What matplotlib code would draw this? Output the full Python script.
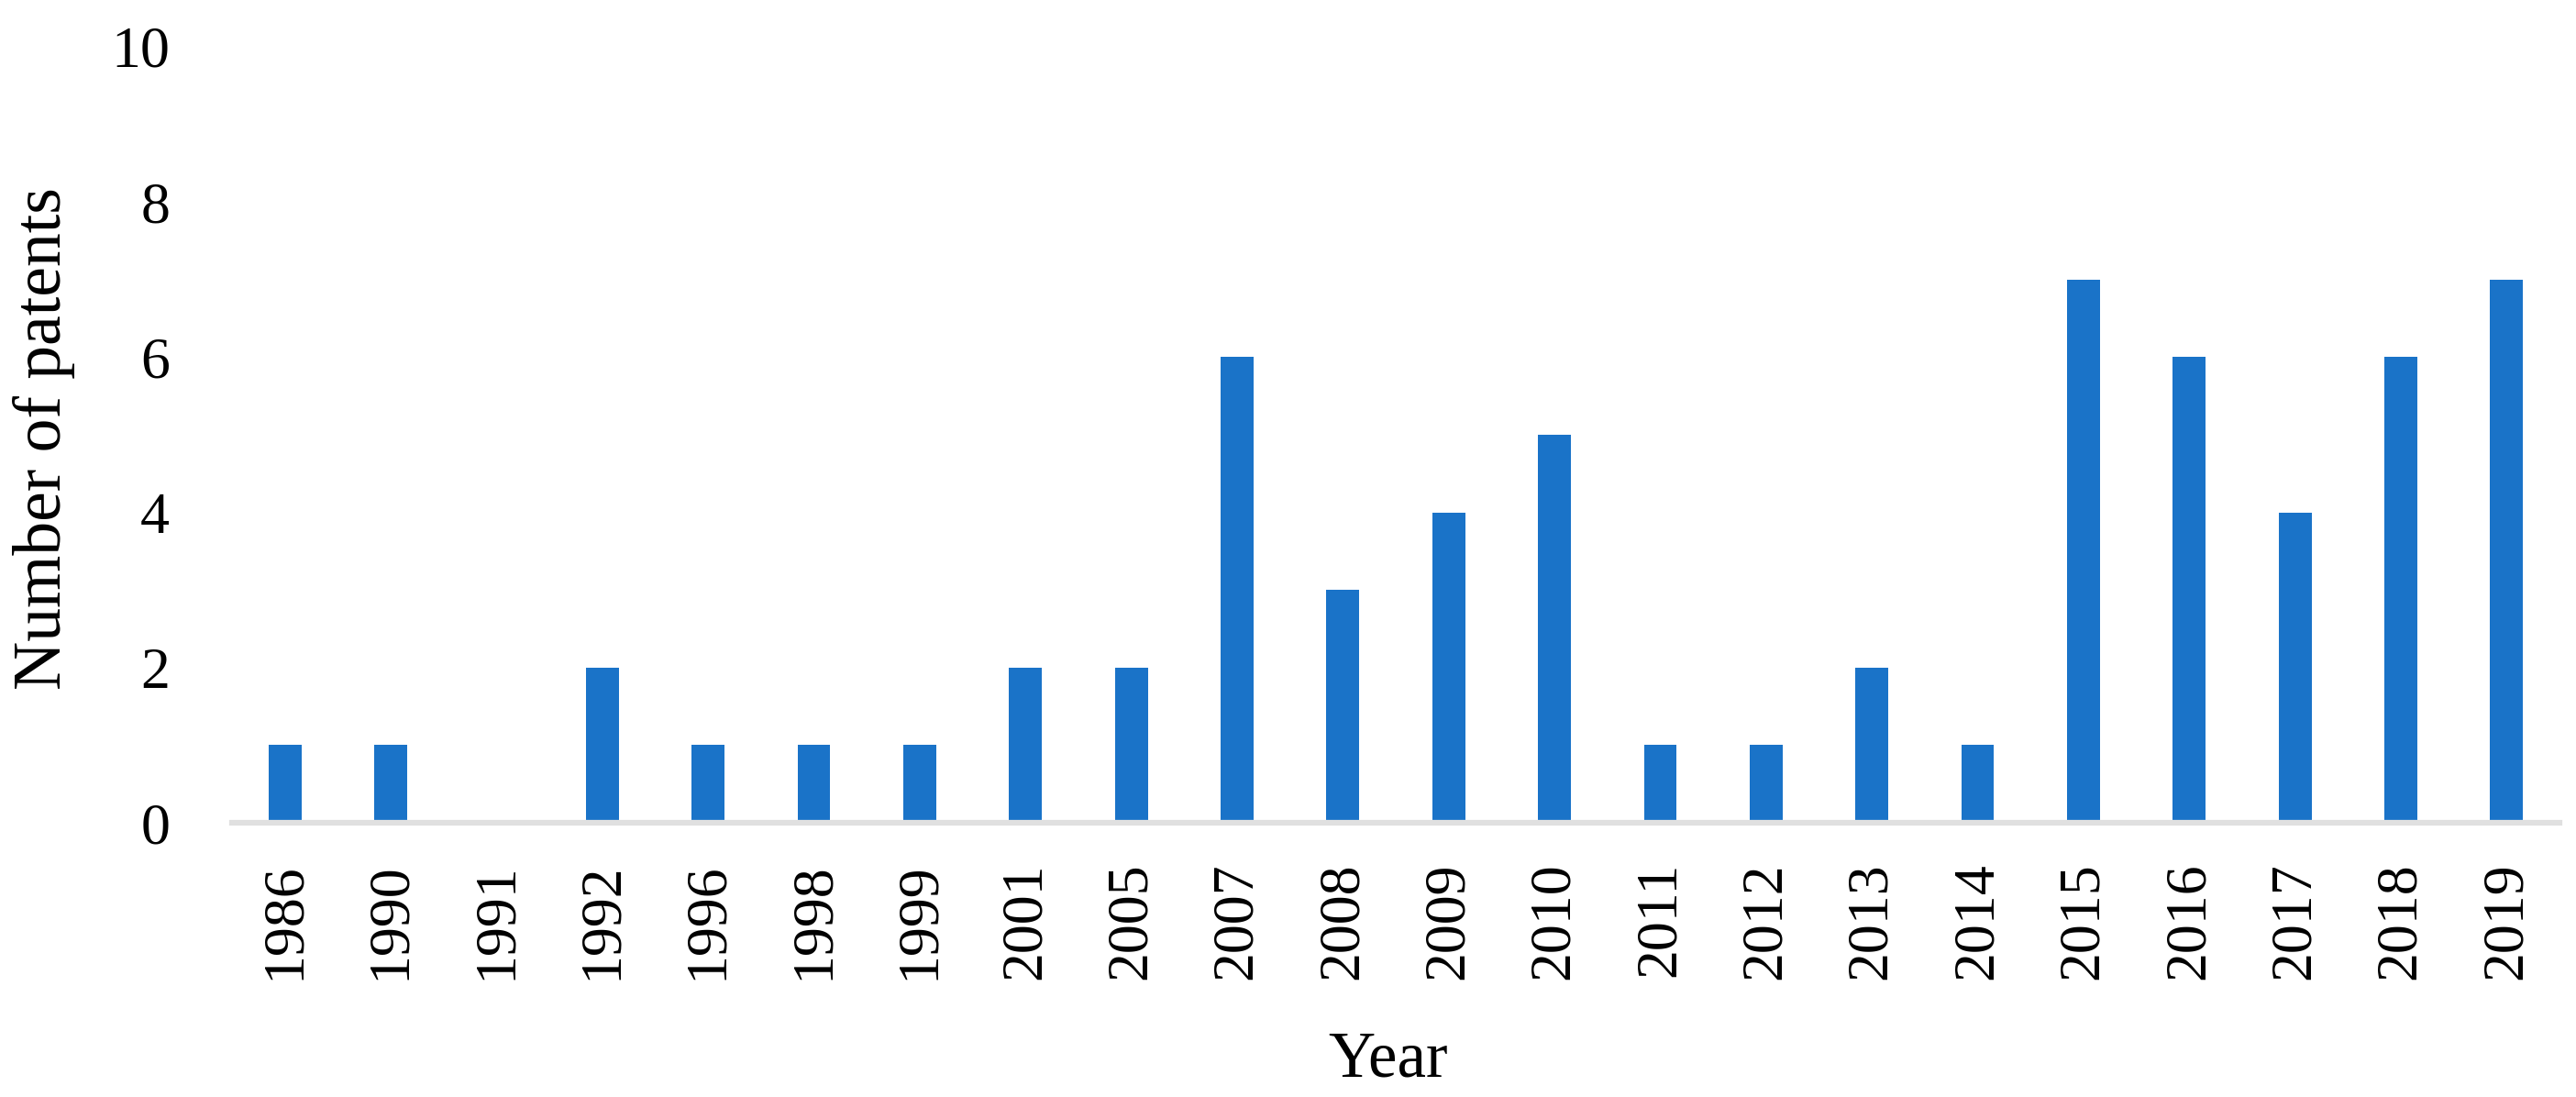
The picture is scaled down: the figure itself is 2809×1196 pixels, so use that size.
import matplotlib.pyplot as plt
import numpy as np

plt.rcParams['font.family'] = ['Liberation Serif', 'DejaVu Serif']

years = ['1986', '1990', '1991', '1992', '1996', '1998', '1999', '2001',
         '2005', '2007', '2008', '2009', '2010', '2011', '2012', '2013',
         '2014', '2015', '2016', '2017', '2018', '2019']
patents = [1, 1, 0, 2, 1, 1, 1, 2, 2, 6, 3, 4, 5, 1, 1, 2, 1, 7, 6, 4, 6, 7]
y_ticks = [0, 2, 4, 6, 8, 10]

fig = plt.figure(figsize=(28.09, 11.96), dpi=100)
ax = fig.add_axes([0.0901, 0.25, 0.9035, 0.7074])

x = np.arange(len(years))
ax.bar(x, patents, width=0.31, color='#1a73c8', zorder=2)

ax.set_xlim(-0.5, len(years) - 0.5)
ax.set_ylim(0, 10)
ax.set_yticks(y_ticks)
ax.set_xticks(x)
ax.set_xticklabels(years, rotation=90)

for s in ['top', 'right', 'left']:
    ax.spines[s].set_visible(False)
ax.spines['bottom'].set_color('#e0e0e0')
ax.spines['bottom'].set_linewidth(4.5)
ax.spines['bottom'].set_zorder(3)

ax.tick_params(axis='both', length=0, labelsize=46, colors='black')
ax.tick_params(axis='y', pad=49)
ax.tick_params(axis='x', pad=31)

fig.text(0.0171, 0.6003, 'Number of patents', rotation=90, fontsize=53,
         ha='center', va='center')
fig.text(0.539, 0.0192, 'Year', fontsize=51, ha='center', va='baseline')

plt.savefig('out.png', dpi=100)
